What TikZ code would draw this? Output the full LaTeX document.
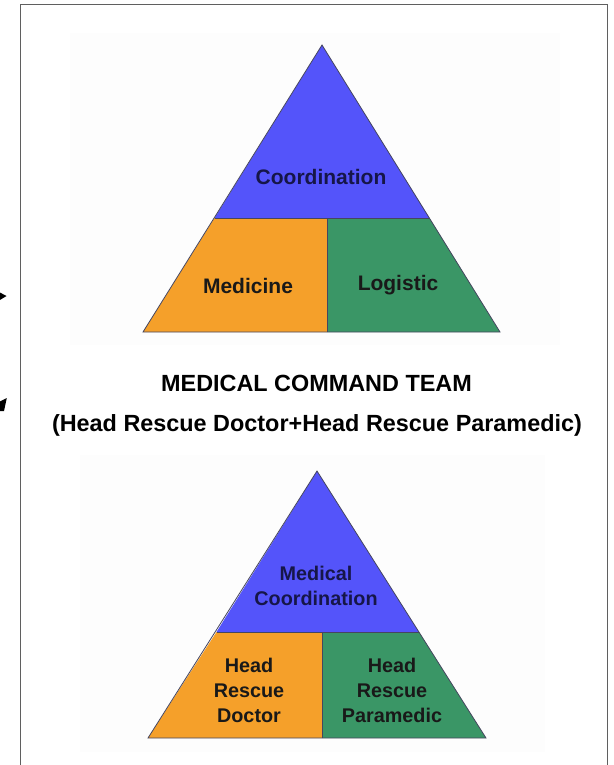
\documentclass[tikz,border=0pt]{standalone}
\usepackage{fontspec}
\setmainfont{Liberation Sans}
\definecolor{pblue}{RGB}{84,84,250}
\definecolor{porange}{RGB}{245,160,42}
\definecolor{pgreen}{RGB}{58,150,102}
\definecolor{pnavy}{RGB}{22,22,72}
\definecolor{pdark}{RGB}{25,25,25}
\definecolor{pedge}{RGB}{70,70,95}
\definecolor{pframe}{RGB}{95,95,95}
\begin{document}
\begin{tikzpicture}[x=1bp,y=-1bp,
  part/.style={draw=pedge,line width=0.8bp,line join=miter},
  toplbl/.style={font=\bfseries\fontsize{21bp}{25bp}\selectfont,inner sep=0pt,align=center},
  botlbl/.style={font=\bfseries\fontsize{19.8bp}{25bp}\selectfont,inner sep=0pt,align=center},
  headlbl/.style={font=\bfseries\fontsize{23.4bp}{28bp}\selectfont,inner sep=0pt,text=black}]
\useasboundingbox (0,0) rectangle (614,765);
\fill[white] (0,0) rectangle (614,765);
% faint image backgrounds
\fill[black!0.8] (70,33) rectangle (560,345);
\fill[black!0.8] (80,455) rectangle (545,752);
% frame
\draw[pframe,line width=1.8bp] (20.5,770) -- (20.5,4.5) -- (607.5,4.5) -- (607.5,770);
% cut-off arrow tips at the left edge
\fill[black] (-1,292) -- (6.5,296) -- (-1,300.5) -- cycle;
\fill[black] (6.8,398) -- (-1,402) -- (-1,411) -- (4,411) -- cycle;

% ---- top pyramid
\coordinate (a1) at (322,45);
\coordinate (bl1) at (143,332);
\coordinate (br1) at (500,332);
\coordinate (l1) at (214.5,218);
\coordinate (r1) at (429.5,218);
\coordinate (m1) at (327,218);
\coordinate (mb1) at (327,332);
\fill[pblue] (a1) -- (r1) -- (l1) -- cycle;
\fill[porange] (l1) -- (m1) -- (mb1) -- (bl1) -- cycle;
\fill[pgreen] (m1) -- (r1) -- (br1) -- (mb1) -- cycle;
\draw[part] (a1) -- (br1) -- (bl1) -- cycle;
\draw[part] (l1) -- (r1);
\draw[part] (m1) -- (mb1);
\node[toplbl,text=pnavy] (coord) at (321,177) {Coordination};
\node[toplbl,text=pdark] (med) at (248,286) {Medicine};
\node[toplbl,text=pdark] (log) at (398,285) {Logistic};

% ---- headings
\node[headlbl] (team) at (316.5,383) {MEDICAL COMMAND TEAM};
\node[headlbl] (members) at (317,425) {(Head Rescue Doctor+Head Rescue Paramedic)};

% ---- bottom pyramid
\coordinate (a2) at (317,471);
\coordinate (bl2) at (148,738);
\coordinate (br2) at (486,738);
\coordinate (l2) at (216.5,632);
\coordinate (r2) at (419,632);
\coordinate (m2) at (322,632);
\coordinate (mb2) at (322,738);
\fill[pblue] (a2) -- (r2) -- (l2) -- cycle;
\fill[porange] (l2) -- (m2) -- (mb2) -- (bl2) -- cycle;
\fill[pgreen] (m2) -- (r2) -- (br2) -- (mb2) -- cycle;
\draw[part] (a2) -- (br2) -- (bl2) -- cycle;
\draw[part] (l2) -- (r2);
\draw[part] (m2) -- (mb2);
\node[botlbl,text=pnavy] (mcoord) at (316,585.5) {Medical\\Coordination};
\node[botlbl,text=pdark] (doctor) at (249,690) {Head\\Rescue\\Doctor};
\node[botlbl,text=pdark] (para) at (392,690) {Head\\Rescue\\Paramedic};
\end{tikzpicture}
\end{document}
